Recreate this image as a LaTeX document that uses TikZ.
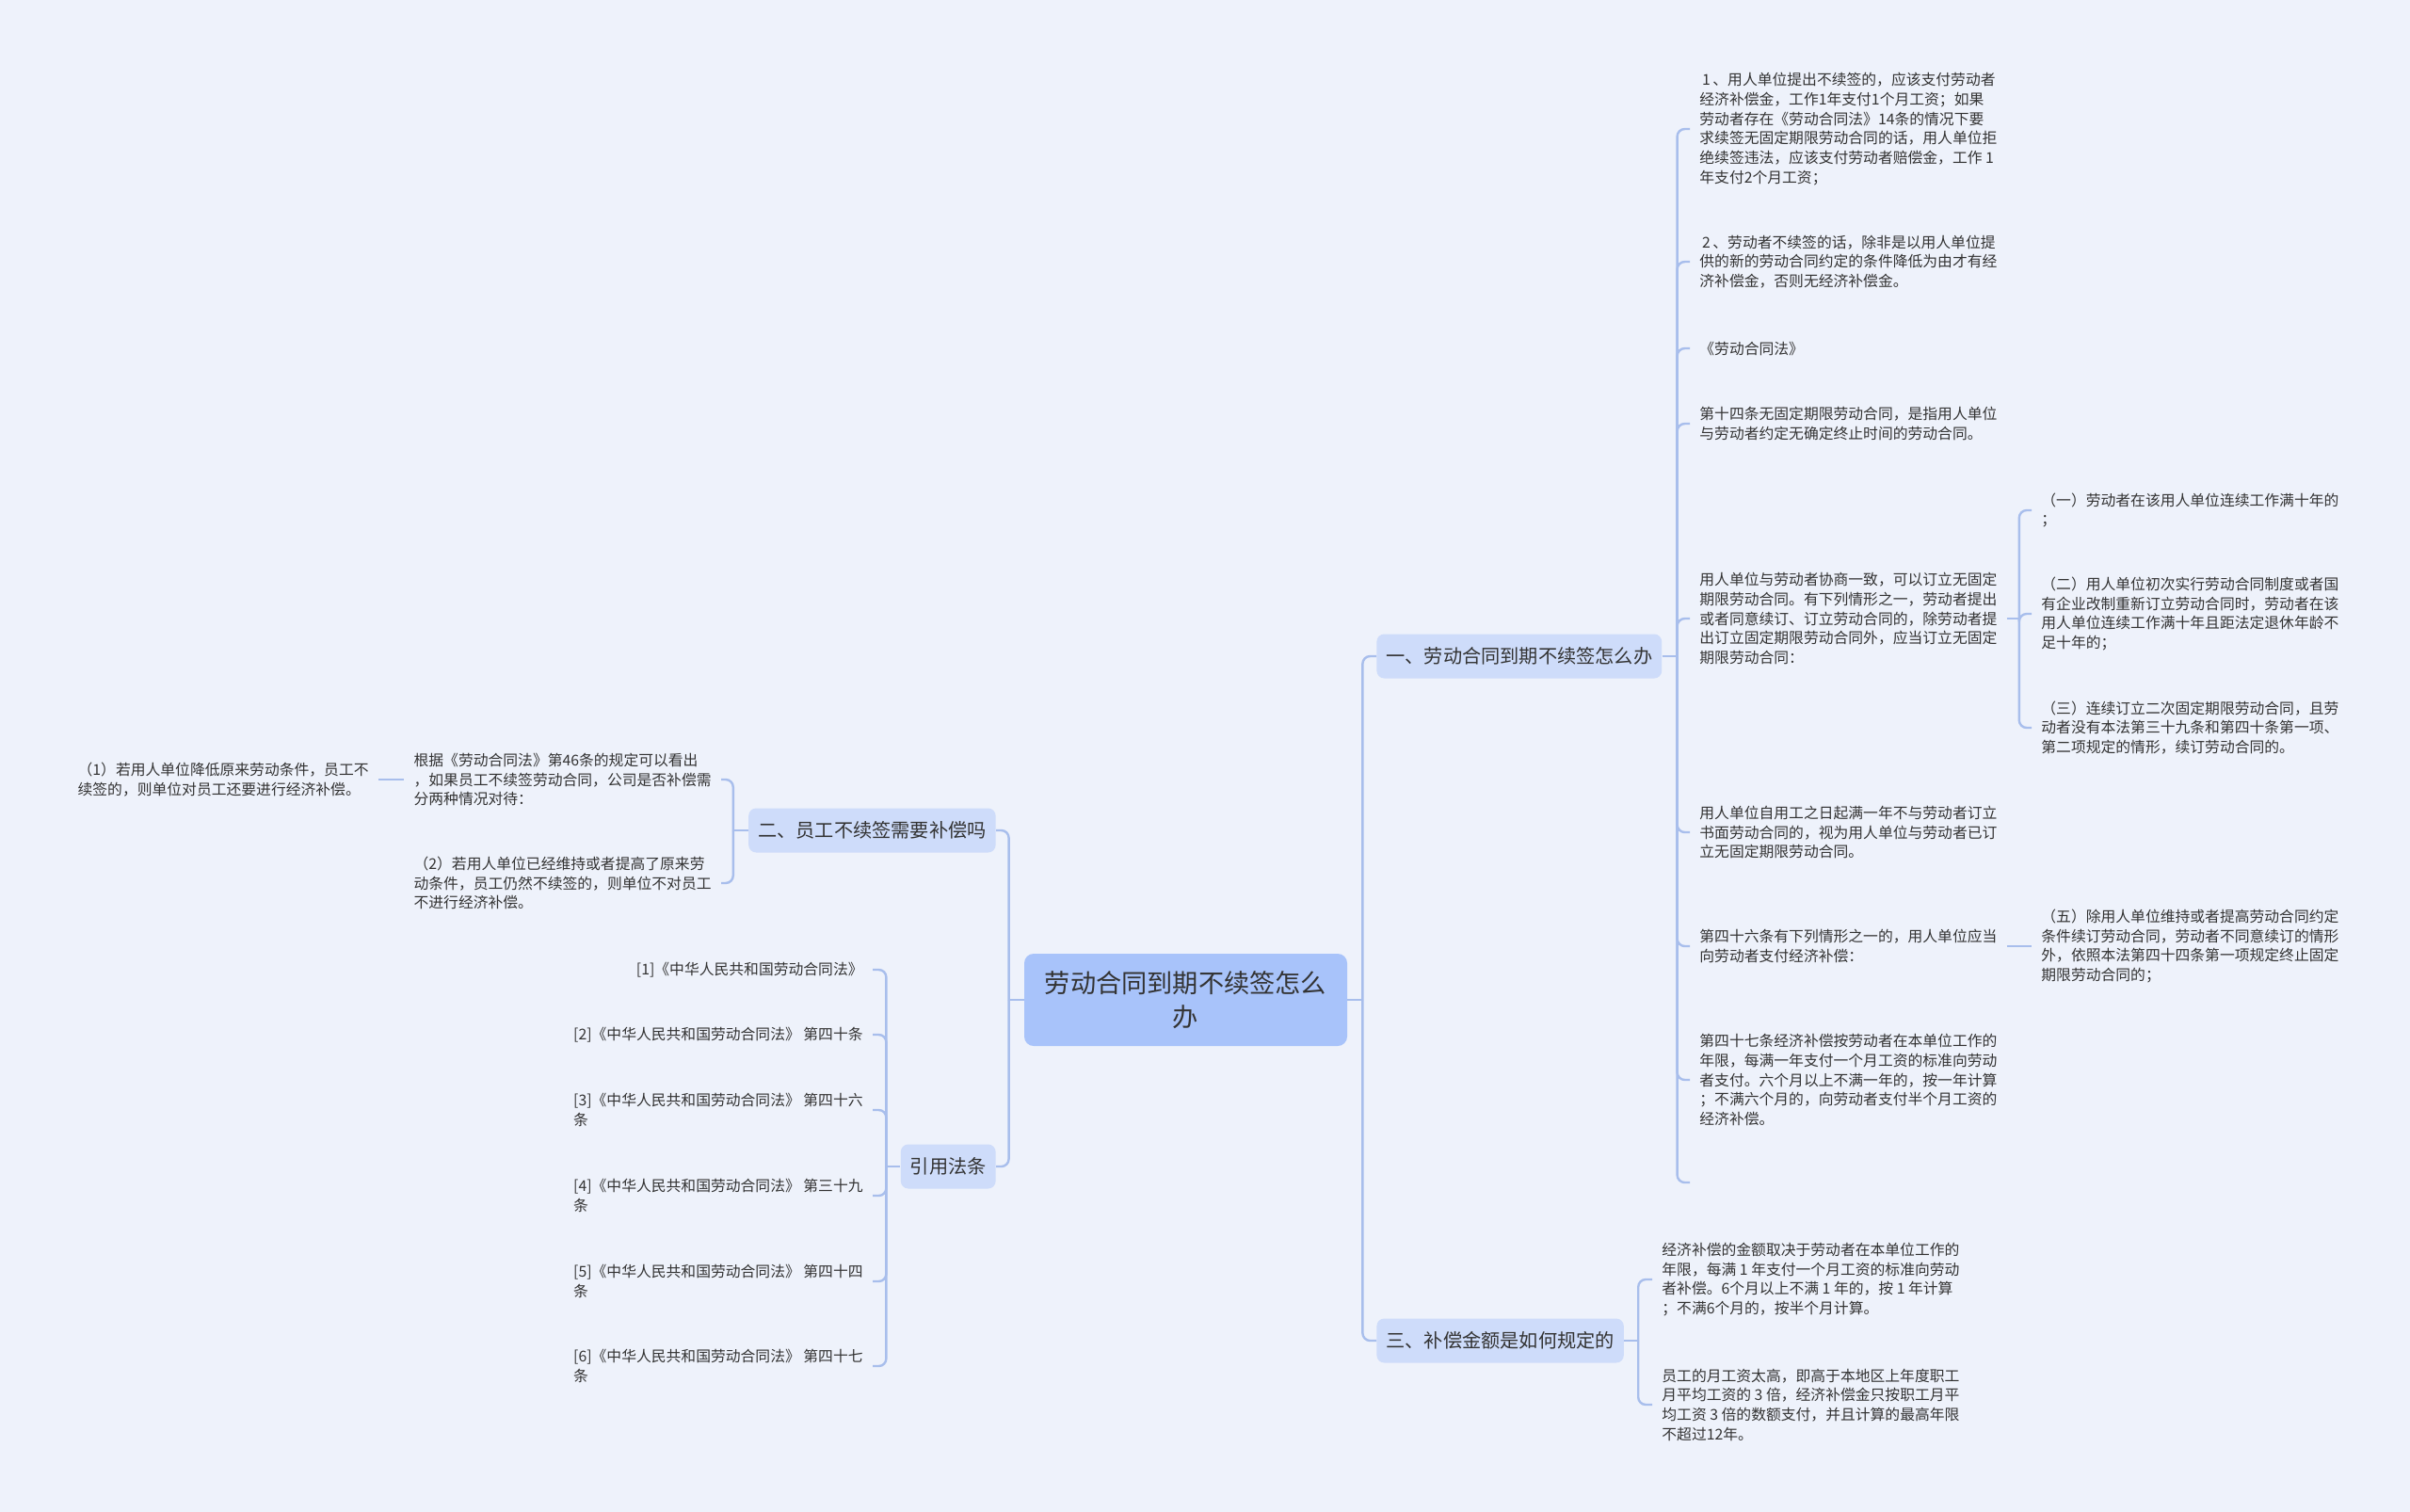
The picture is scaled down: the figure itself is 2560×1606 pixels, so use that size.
\documentclass[tikz,border=0pt]{standalone}
\usepackage{fontspec}
\setmainfont{Noto Sans CJK SC}
\usetikzlibrary{positioning}

\definecolor{bgcol}{RGB}{238,242,251}
\definecolor{linkblue}{RGB}{168,190,236}
\definecolor{rootfill}{RGB}{168,195,250}
\definecolor{topicfill}{RGB}{206,220,250}
\definecolor{ink}{RGB}{51,51,51}

\tikzset{
  rootbox/.style={fill=rootfill, rounded corners=5pt, text=ink, align=center,
    font=\fontsize{13.6}{18}\selectfont, minimum width=171.5pt, minimum height=49pt},
  topic/.style={fill=topicfill, rounded corners=4pt, text=ink, inner xsep=5pt,
    font=\fontsize{10.1}{12}\selectfont, minimum height=23.5pt},
  leaf/.style={text=ink, align=left, inner xsep=5pt, inner ysep=2pt,
    font=\fontsize{7.9}{10.35}\selectfont},
  link/.style={draw=linkblue, line width=1.2pt, rounded corners=4pt},
}

\begin{document}
\begin{tikzpicture}[x=0.5pt, y=-0.5pt]
  \fill[bgcol] (0,0) rectangle (2560,1606);
  \useasboundingbox (0,0) rectangle (2560,1606);

  % centre and main topics
  \node[rootbox] (root) at (1259.5,1062) {劳动合同到期不续签怎么\\办};
  \node[topic, anchor=west] (t1) at (1462,697) {一、劳动合同到期不续签怎么办};
  \node[topic, anchor=west] (t3) at (1462,1424) {三、补偿金额是如何规定的};
  \node[topic, anchor=east] (t2) at (1058,882) {二、员工不续签需要补偿吗};
  \node[topic, anchor=east] (t4) at (1058,1239) {引用法条};

  % branch one
  \node[leaf, anchor=west] (a1) at (1795,137) {\,1\,、用人单位提出不续签的，应该支付劳动者\\经济补偿金，工作1年支付1个月工资；如果\\劳动者存在《劳动合同法》14条的情况下要\\求续签无固定期限劳动合同的话，用人单位拒\\绝续签违法，应该支付劳动者赔偿金，工作 1\\年支付2个月工资；};
  \node[leaf, anchor=west] (a2) at (1795,278) {\,2\,、劳动者不续签的话，除非是以用人单位提\\供的新的劳动合同约定的条件降低为由才有经\\济补偿金，否则无经济补偿金。};
  \node[leaf, anchor=west] (a3) at (1795,370) {《劳动合同法》};
  \node[leaf, anchor=west] (a4) at (1795,450) {第十四条无固定期限劳动合同，是指用人单位\\与劳动者约定无确定终止时间的劳动合同。};
  \node[leaf, anchor=west] (a5) at (1795,657) {用人单位与劳动者协商一致，可以订立无固定\\期限劳动合同。有下列情形之一，劳动者提出\\或者同意续订、订立劳动合同的，除劳动者提\\出订立固定期限劳动合同外，应当订立无固定\\期限劳动合同：};
  \node[leaf, anchor=west] (a6) at (1795,884) {用人单位自用工之日起满一年不与劳动者订立\\书面劳动合同的，视为用人单位与劳动者已订\\立无固定期限劳动合同。};
  \node[leaf, anchor=west] (a7) at (1795,1005) {第四十六条有下列情形之一的，用人单位应当\\向劳动者支付经济补偿：};
  \node[leaf, anchor=west] (a8) at (1795,1147) {第四十七条经济补偿按劳动者在本单位工作的\\年限，每满一年支付一个月工资的标准向劳动\\者支付。六个月以上不满一年的，按一年计算\\；不满六个月的，向劳动者支付半个月工资的\\经济补偿。};
  \coordinate (a9) at (1795,1256);

  \node[leaf, anchor=west] (b1) at (2158,542) {（一）劳动者在该用人单位连续工作满十年的\\；};
  \node[leaf, anchor=west] (b2) at (2158,652) {（二）用人单位初次实行劳动合同制度或者国\\有企业改制重新订立劳动合同时，劳动者在该\\用人单位连续工作满十年且距法定退休年龄不\\足十年的；};
  \node[leaf, anchor=west] (b3) at (2158,773) {（三）连续订立二次固定期限劳动合同，且劳\\动者没有本法第三十九条和第四十条第一项、\\第二项规定的情形，续订劳动合同的。};
  \node[leaf, anchor=west] (c1) at (2158,1005) {（五）除用人单位维持或者提高劳动合同约定\\条件续订劳动合同，劳动者不同意续订的情形\\外，依照本法第四十四条第一项规定终止固定\\期限劳动合同的；};

  % branch three
  \node[leaf, anchor=west] (d1) at (1755,1359) {经济补偿的金额取决于劳动者在本单位工作的\\年限，每满 1 年支付一个月工资的标准向劳动\\者补偿。6个月以上不满 1 年的，按 1 年计算\\；不满6个月的，按半个月计算。};
  \node[leaf, anchor=west] (d2) at (1755,1492) {员工的月工资太高，即高于本地区上年度职工\\月平均工资的 3 倍，经济补偿金只按职工月平\\均工资 3 倍的数额支付，并且计算的最高年限\\不超过12年。};

  % branch two
  \node[leaf, anchor=east] (e1) at (766,828) {根据《劳动合同法》第46条的规定可以看出\\，如果员工不续签劳动合同，公司是否补偿需\\分两种情况对待：};
  \node[leaf, anchor=east] (e2) at (766,938) {（2）若用人单位已经维持或者提高了原来劳\\动条件，员工仍然不续签的，则单位不对员工\\不进行经济补偿。};
  \node[leaf, anchor=east] (f1) at (402,828) {（1）若用人单位降低原来劳动条件，员工不\\续签的，则单位对员工还要进行经济补偿。};

  % cited articles
  \node[leaf, anchor=east] (g1) at (927,1030) {[1]《中华人民共和国劳动合同法》};
  \node[leaf, anchor=east] (g2) at (927,1099) {[2]《中华人民共和国劳动合同法》 第四十条};
  \node[leaf, anchor=east] (g3) at (927,1179) {[3]《中华人民共和国劳动合同法》 第四十六\\条};
  \node[leaf, anchor=east] (g4) at (927,1270) {[4]《中华人民共和国劳动合同法》 第三十九\\条};
  \node[leaf, anchor=east] (g5) at (927,1361) {[5]《中华人民共和国劳动合同法》 第四十四\\条};
  \node[leaf, anchor=east] (g6) at (927,1451) {[6]《中华人民共和国劳动合同法》 第四十七\\条};

  % connectors
  \draw[link] (root.east) -- ++(16,0) coordinate (jr);
  \foreach \c in {t1,t3} \draw[link] (jr) |- (\c.west);
  \draw[link] (root.west) -- ++(-16,0) coordinate (jl);
  \foreach \c in {t2,t4} \draw[link] (jl) |- (\c.east);

  \draw[link] (t1.east) -- ++(16,0) coordinate (j1);
  \foreach \c in {a1,a2,a3,a4,a5,a6,a7,a8} \draw[link] (j1) |- (\c.west);
  \draw[link] (j1) |- (a9);
  \draw[link] (a5.east) -- ++(13,0) coordinate (j5);
  \foreach \c in {b1,b2,b3} \draw[link] (j5) |- (\c.west);
  \draw[link] (a7.east) -- (c1.west);

  \draw[link] (t3.east) -- ++(15,0) coordinate (j3);
  \foreach \c in {d1,d2} \draw[link] (j3) |- (\c.west);

  \draw[link] (t2.west) -- ++(-16,0) coordinate (j2);
  \foreach \c in {e1,e2} \draw[link] (j2) |- (\c.east);
  \draw[link] (e1.west) -- (f1.east);

  \draw[link] (t4.west) -- ++(-15,0) coordinate (j4);
  \foreach \c in {g1,g2,g3,g4,g5,g6} \draw[link] (j4) |- (\c.east);
\end{tikzpicture}
\end{document}
